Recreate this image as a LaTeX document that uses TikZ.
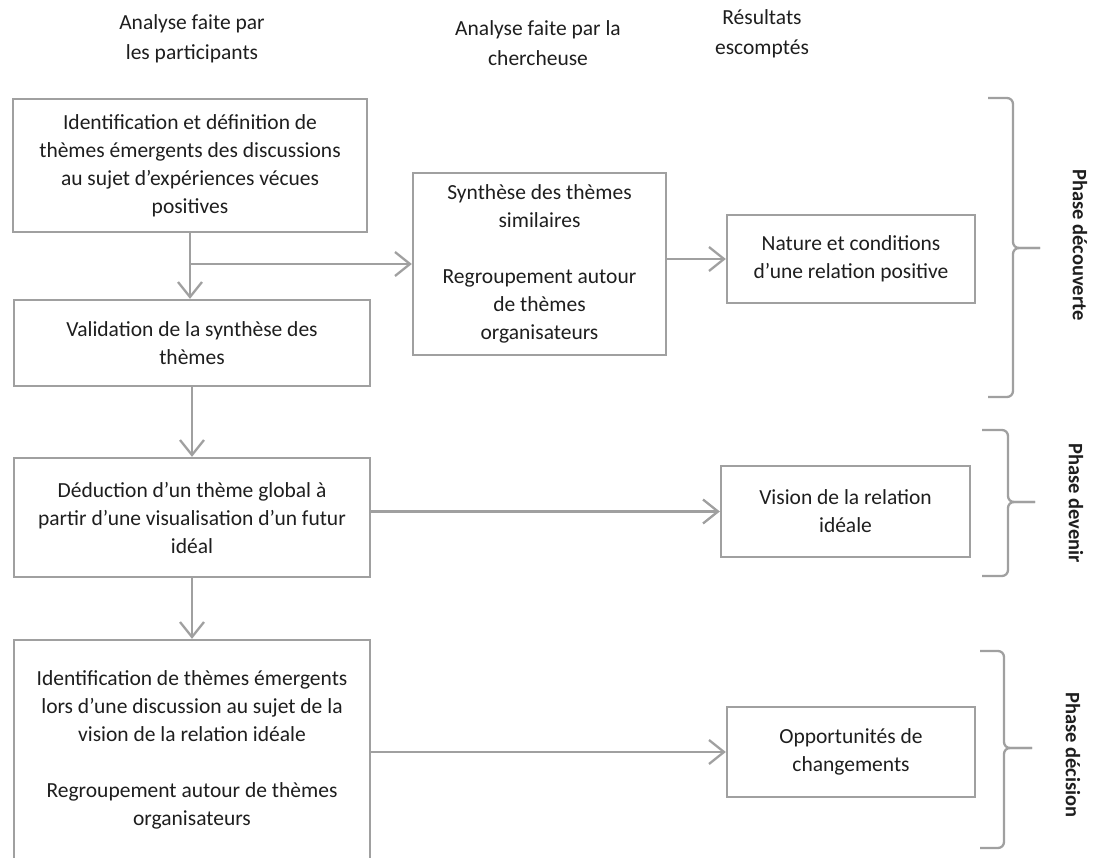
\documentclass[tikz,border=0pt]{standalone}
\usepackage{fontspec}
\setmainfont{Carlito}
\usetikzlibrary{arrows.meta,calc}
\definecolor{linegray}{HTML}{A0A0A0}
\definecolor{txt}{HTML}{1E1E1E}
\tikzset{
  box/.style={draw=linegray, line width=2.3pt, rectangle, align=center, inner sep=0pt,
    font=\fontsize{21.5}{28}\selectfont, text=txt},
  head/.style={align=center, font=\fontsize{21.5}{30.5}\selectfont, text=txt, inner sep=0pt},
  conn/.style={draw=linegray, line width=2.3pt, -{Straight Barb[length=15pt,width=24pt,line width=2.3pt]}},
  brc/.style={draw=linegray, line width=2.3pt, rounded corners=6pt},
  phase/.style={rotate=-90, font=\fontsize{20.5}{24}\selectfont\bfseries, text=txt, inner sep=0pt}
}
\newcommand{\phbrace}[6]{% left, spine, tip, top, mid, bottom
  \draw[brc] (#1,#4) -- (#2,#4) -- (#2,#5) -- (#3,#5);
  \draw[brc] (#3,#5) -- (#2,#5) -- (#2,#6) -- (#1,#6);
}
\begin{document}
\begin{tikzpicture}[x=1pt,y=-1pt]
\useasboundingbox (0,0) rectangle (1093,858);
\clip (0,0) rectangle (1093,858);
% headers
\node[head] (h1) at (192,39) {Analyse faite par\\les participants};
\node[head] (h2) at (538,43) {Analyse faite par la\\chercheuse};
\node[head] (h3) at (762,34) {Résultats\\escomptés};
% boxes
\node[box, minimum width=354pt, minimum height=133pt] (b1) at (190,165.5)
  {Identification et définition de\\thèmes émergents des discussions\\au sujet d’expériences vécues\\positives};
\node[box, minimum width=356pt, minimum height=86pt] (b2) at (192,343)
  {Validation de la synthèse des\\thèmes};
\node[box, minimum width=253pt, minimum height=182pt] (mid) at (539.5,264)
  {Synthèse des thèmes\\similaires\\[28pt]Regroupement autour\\de thèmes\\organisateurs};
\node[box, minimum width=248pt, minimum height=88pt] (nat) at (851,259)
  {Nature et conditions\\d’une relation positive};
\node[box, minimum width=356pt, minimum height=119pt] (b3) at (192,517.5)
  {Déduction d’un thème global à\\partir d’une visualisation d’un futur\\idéal};
\node[box, minimum width=249pt, minimum height=91pt] (vis) at (845.5,511.5)
  {Vision de la relation\\idéale};
\node[box, minimum width=356pt, minimum height=220pt] (b4) at (192,750)
  {Identification de thèmes émergents\\lors d’une discussion au sujet de la\\vision de la relation idéale\\[28pt]Regroupement autour de thèmes\\organisateurs};
\node[box, minimum width=248pt, minimum height=90pt] (opp) at (851,752)
  {Opportunités de\\changements};
% connectors
\coordinate (br) at (b1.south |- mid.west);
\draw[conn] (b1.south) -- (b1.south |- b2.north);
\draw[conn] (br) -- (mid.west);
\draw[conn] (nat.west -| mid.east) -- (nat.west);
\draw[conn] (b2.south) -- (b3.north);
\draw[conn] (b3.east |- vis.west) -- (vis.west);
\draw[conn] (b3.south) -- (b4.north);
\draw[conn] (b4.east |- opp.west) -- (opp.west);
% braces
\phbrace{988}{1013}{1040}{98}{248}{397}
\phbrace{982}{1008}{1035}{430}{502}{576}
\phbrace{980}{1004}{1032}{651}{748}{848}
\node[phase] (p1) at (1080,245) {Phase découverte};
\node[phase] (p2) at (1076,503) {Phase devenir};
\node[phase] (p3) at (1073,755) {Phase décision};
\end{tikzpicture}
\end{document}
